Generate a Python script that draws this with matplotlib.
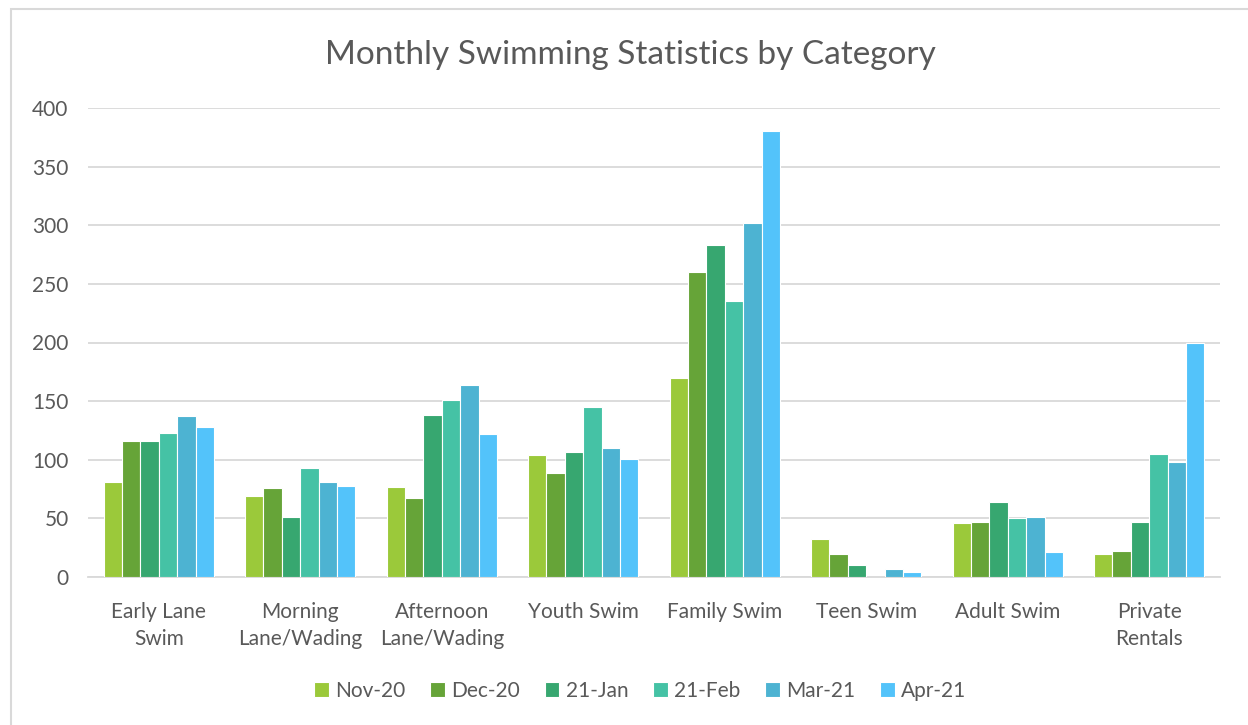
import numpy as np
from matplotlib import pyplot as plt
from matplotlib.patches import Rectangle

categories = ["Early Lane\nSwim", "Morning\nLane/Wading", "Afternoon\nLane/Wading",
              "Youth Swim", "Family Swim", "Teen Swim", "Adult Swim", "Private\nRentals"]
months = ["Nov-20", "Dec-20", "21-Jan", "21-Feb", "Mar-21", "Apr-21"]

nov_20 = [81, 69, 77, 104, 170, 32, 46, 20]
dec_20 = [116, 76, 67, 89, 260, 20, 47, 22]
jan_21 = [116, 51, 138, 107, 283, 10, 64, 47]
feb_21 = [123, 93, 151, 145, 235, 0, 50, 105]
mar_21 = [137, 81, 164, 110, 302, 7, 51, 98]
apr_21 = [128, 78, 122, 101, 380, 4, 21, 200]

series = [nov_20, dec_20, jan_21, feb_21, mar_21, apr_21]
colors = ["#9BC93A", "#66A438", "#37A770", "#45C2A5", "#4DB3D2", "#53C3FA"]

plt.rcParams['font.family'] = ['Lato', 'DejaVu Sans']
text_color = "#595959"

fig = plt.figure(figsize=(12.48, 7.25), dpi=100)
ax = fig.add_axes([88 / 1248, 1 - 577 / 725, (1220 - 88) / 1248, (577 - 108) / 725])

x = np.arange(len(categories))
width = 0.13
for i, (vals, col, name) in enumerate(zip(series, colors, months)):
    offset = (i - 2.5) * width
    ax.bar(x + offset, vals, width, color=col, edgecolor="white", linewidth=0.8,
           label=name, zorder=3)

ax.set_xlim(-0.5, len(categories) - 0.5)
ax.set_ylim(0, 400)
ax.set_yticks(range(0, 401, 50))
ax.yaxis.grid(True, color="#D9D9D9", linewidth=1.3, zorder=0)
ax.set_xticks(x)
ax.set_xticklabels(categories, fontsize=15, color=text_color, linespacing=1.45)
ax.tick_params(axis="y", labelsize=15, labelcolor=text_color, length=0, pad=14)
ax.tick_params(axis="x", length=0, pad=18)
for side in ["top", "right", "left"]:
    ax.spines[side].set_visible(False)
ax.spines["bottom"].set_color("#D9D9D9")
ax.spines["bottom"].set_linewidth(1.3)

fig.text(0.505, 1 - 55 / 725, "Monthly Swimming Statistics by Category",
         ha="center", va="center", fontsize=24, color=text_color)

leg = fig.legend(loc="center", bbox_to_anchor=(0.513, 1 - 691 / 725), ncol=6,
                 frameon=False, fontsize=15, handlelength=0.7, handleheight=0.7,
                 handletextpad=0.3, columnspacing=1.2)
for t in leg.get_texts():
    t.set_color(text_color)

fig.patches.append(Rectangle((11 / 1248, -0.05), 1.2, 1.05 - 9 / 725,
                             transform=fig.transFigure, fill=False,
                             edgecolor="#D9D9D9", linewidth=1.5))

fig.savefig("out.png", dpi=100)
